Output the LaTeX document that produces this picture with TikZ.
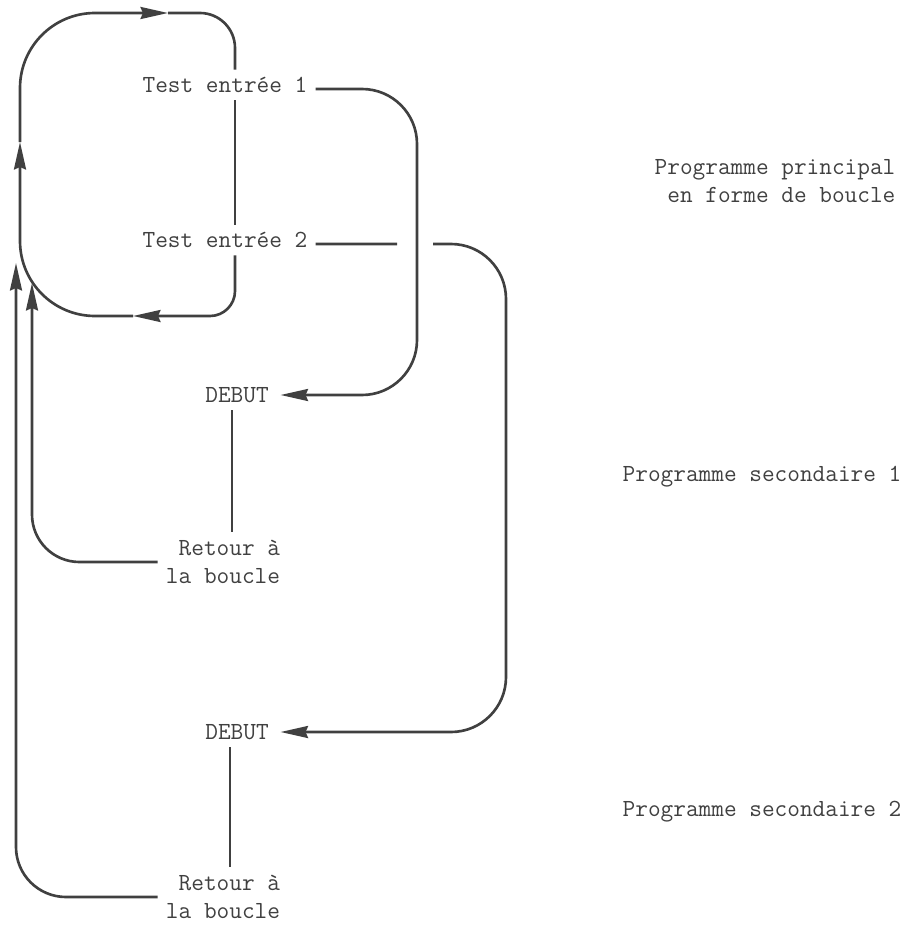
\documentclass[tikz,border=0pt]{standalone}
\usepackage{fontspec}
\usepackage{tikz}
\usetikzlibrary{arrows.meta}
\definecolor{cink}{rgb}{0.25, 0.25, 0.25}

\begin{document}
\begin{tikzpicture}[x=0.02cm,y=-0.02cm,-,>={Stealth[length=0.55cm,width=0.24cm,inset=0.05cm]},
  color=cink,line width=1.5pt,
  text node/.style={font=\ttfamily\fontsize{14}{15.5}\selectfont,inner sep=4pt},
  test node/.style={text node,text height=8pt,text depth=0pt},
  back node/.style={text node,align=right}]
  \useasboundingbox (0,0) rectangle (916,926);

  \node[test node] (t1) at (225,85) {Test entrée 1};
  \node[test node] (t2) at (225,240) {Test entrée 2};
  \node[test node] (d1) at (237,395) {DEBUT};
  \node[test node] (d2) at (237,732) {DEBUT};
  \node[back node] (r1) at (223,562) {Retour à\\la boucle};
  \node[back node] (r2) at (223,897) {Retour à\\la boucle};
  \node[back node] (pp) at (775,181) {Programme principal\\en forme de boucle};
  \node[text node] (ps1) at (762,477) {Programme secondaire 1};
  \node[text node] (ps2) at (762,812) {Programme secondaire 2};

  % main loop
  \coordinate (lr) at (235,0);
  \coordinate (bot) at (133,316);
  \coordinate (lft) at (20,142);
  \coordinate (top) at (168,13);
  \draw[->,rounded corners=0.5cm] (t2.south -| lr) |- (bot);
  \draw[->,rounded corners=1.5cm] (bot) -| (lft);
  \draw[->,rounded corners=1.5cm] (lft) |- (top);
  \draw[rounded corners=0.7cm] (top) -| (t1.north -| lr);
  \draw (t1.south -| lr) -- (t2.north -| lr);

  % calls
  \coordinate (c1) at (417,395);
  \coordinate (j1) at (397,244);
  \coordinate (j2) at (433,244);
  \coordinate (c2) at (506,732);
  \draw[->,rounded corners=1.1cm,shorten >=2pt] ([yshift=-0.08cm]t1.east) -| (c1) -- (d1.east);
  \draw ([yshift=-0.08cm]t2.east) -- (j1);
  \draw[->,rounded corners=1.1cm,shorten >=2pt] (j2) -| (c2) -- (d2.east);

  % returns
  \coordinate (a1) at (32,283);
  \coordinate (a2) at (16,263);
  \draw (d1.south) ++(-5,0) coordinate (s1) -- (s1 |- r1.north);
  \draw (d2.south) ++(-7,0) coordinate (s2) -- (s2 |- r2.north);
  \draw[->,rounded corners=0.95cm] (r1.west) -| (a1);
  \draw[->,rounded corners=1cm] (r2.west) -| (a2);
\end{tikzpicture}
\end{document}
